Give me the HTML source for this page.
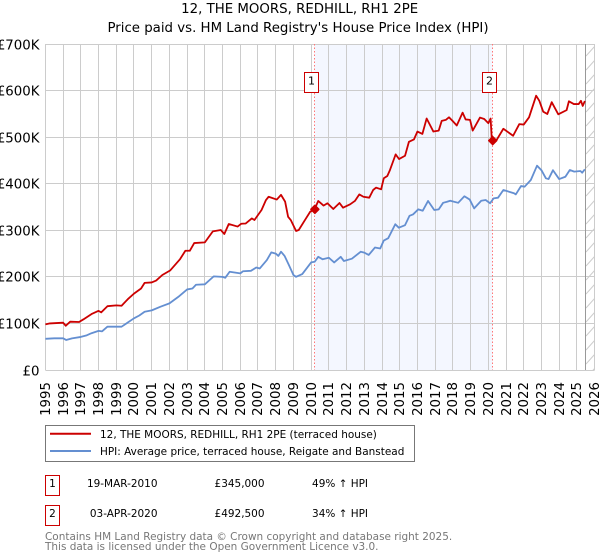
<!DOCTYPE html>
<html>
<head>
<meta charset="utf-8">
<style>
html,body{margin:0;padding:0;background:#fff;width:600px;height:560px;overflow:hidden}
svg{display:block;font-family:"DejaVu Sans","Liberation Sans",sans-serif}
</style>
</head>
<body>
<svg id="chart" width="600" height="560" viewBox="0 0 600 560" xmlns="http://www.w3.org/2000/svg">
<defs>
<pattern id="hatch" width="9" height="14" patternUnits="userSpaceOnUse" x="586" y="44">
<path d="M0 12 L9 2" stroke="#cccccc" stroke-width="1" fill="none"/>
</pattern>
</defs>
<text x="299.7" y="13" text-anchor="middle" font-size="13.33" fill="#000">12, THE MOORS, REDHILL, RH1 2PE</text>
<text x="298" y="32" text-anchor="middle" font-size="13.33" fill="#000">Price paid vs. HM Land Registry's House Price Index (HPI)</text>
<g id="plot"></g>
<g>
<rect x="45.5" y="425.5" width="369" height="36" fill="#fff" stroke="#777" stroke-width="1"/>
<line x1="50" x2="91" y1="433.7" y2="433.7" stroke="#cc0000" stroke-width="2"/>
<text x="100" y="438" font-size="10.47" fill="#000">12, THE MOORS, REDHILL, RH1 2PE (terraced house)</text>
<line x1="50" x2="91" y1="451" y2="451" stroke="#648fd1" stroke-width="2"/>
<text x="100" y="455" font-size="10.47" fill="#000">HPI: Average price, terraced house, Reigate and Banstead</text>
</g>
<g font-size="10.47" fill="#000">
<rect x="45.5" y="475.5" width="14" height="20" fill="#fff" stroke="#cc0000"/>
<text x="52.5" y="487" text-anchor="middle">1</text>
<text x="157.5" y="487" text-anchor="end">19-MAR-2010</text>
<text x="264.5" y="487" text-anchor="end">£345,000</text>
<text x="368" y="487" text-anchor="end">49% ↑ HPI</text>
<rect x="45.5" y="505.5" width="14" height="20" fill="#fff" stroke="#cc0000"/>
<text x="52.5" y="517" text-anchor="middle">2</text>
<text x="157.5" y="517" text-anchor="end">03-APR-2020</text>
<text x="264.5" y="517" text-anchor="end">£492,500</text>
<text x="368" y="517" text-anchor="end">34% ↑ HPI</text>
</g>
<text x="45" y="540" font-size="10.47" fill="#777">Contains HM Land Registry data © Crown copyright and database right 2025.</text>
<text x="45" y="550" font-size="10.47" fill="#777">This data is licensed under the Open Government Licence v3.0.</text>
</svg>
<script>
var yearTicks = [1995,1996,1997,1998,1999,2000,2001,2002,2003,2004,2005,2006,2007,2008,2009,2010,2011,2012,2013,2014,2015,2016,2017,2018,2019,2020,2021,2022,2023,2024,2025,2026];
var priceTicks = [0,100,200,300,400,500,600,700];
var priceTickLabels = ["£0","£100K","£200K","£300K","£400K","£500K","£600K","£700K"];

var hpiDates = [1995,1995.5,1996,1996.17,1996.5,1997,1997.3,1997.6,1998,1998.2,1998.5,1999,1999.3,1999.65,2000,2000.3,2000.6,2001,2001.5,2002,2002.5,2003,2003.3,2003.5,2004,2004.5,2005,2005.15,2005.4,2006,2006.15,2006.6,2006.9,2007.1,2007.5,2007.75,2008,2008.15,2008.3,2008.5,2008.75,2009,2009.15,2009.5,2010,2010.2,2010.4,2010.65,2011,2011.3,2011.67,2011.85,2012.3,2012.8,2013,2013.25,2013.6,2013.9,2014.1,2014.35,2014.75,2014.95,2015.3,2015.55,2015.75,2016.05,2016.3,2016.6,2016.95,2017.2,2017.45,2017.65,2017.85,2018.3,2018.65,2018.95,2019.2,2019.6,2019.85,2020.1,2020.3,2020.55,2020.85,2021.45,2021.55,2021.85,2022.05,2022.4,2022.75,2023,2023.25,2023.4,2023.65,2024,2024.35,2024.6,2024.85,2025.2,2025.3,2025.45];
var hpiValues = [67,68,68,64.5,68,71,74,79,84,83,93,93,93,102,111,117,125,128,136,143,157,173,175,183,184,201,200,198,211,207.5,212,213,220,218,236,252.5,250,245,254,245,225,204,200,206,231,232.5,243,237.7,241,231,243,234,239,254,252,247,263,261,278,283,313,305.6,311,331,334,345,342,363,343.5,345,359,361,363.5,359,373,366,347,363.5,365,358,368.6,370,386.5,379.5,377,395,393.6,408,438.7,429,411.6,410,429,410,415,429.5,426,427.3,423.6,431];

var paidDates = [1995,1995.25,1996,1996.15,1996.4,1996.9,1997.15,1997.6,1998,1998.15,1998.5,1999,1999.3,1999.65,2000,2000.4,2000.6,2001,2001.25,2001.6,2002.05,2002.6,2002.9,2003.15,2003.4,2004,2004.45,2004.9,2005.1,2005.35,2005.85,2006.05,2006.3,2006.65,2006.8,2007.2,2007.45,2007.6,2008.06,2008.3,2008.53,2008.7,2008.85,2009.15,2009.3,2009.65,2009.95,2010.19,2010.4,2010.7,2010.92,2011.25,2011.6,2011.8,2012.2,2012.47,2012.72,2012.95,2013.28,2013.5,2013.66,2013.95,2014.1,2014.3,2014.45,2014.77,2014.96,2015.3,2015.52,2015.8,2016,2016.28,2016.52,2016.9,2017.2,2017.37,2017.6,2017.78,2018,2018.22,2018.55,2018.72,2018.97,2019.12,2019.53,2019.77,2020,2020.13,2020.2,2020.47,2020.85,2021.4,2021.75,2022,2022.3,2022.7,2022.88,2023.1,2023.33,2023.58,2023.95,2024.42,2024.55,2024.83,2025.1,2025.23,2025.33,2025.45];
var paidValues = [98,100,101.6,95,103.7,103,108.8,120,127,123.7,137,138.7,138,152,164,175,187,188,192,204,214,238,256,256,272.6,274,297.6,300.6,292,313.5,308,314,314.5,325.5,322,343.5,365,372,366,376,361.6,329,322,298.5,300.6,322,340,345,363,353,358,345.7,358.6,348.6,355.8,363,377,372,370,386.5,391.5,388,411.6,416.6,429.5,463,453,460,490,495,512,507,540,512,514,535,537,542.6,534,525,552.6,538,537,514,542,539,530,540,492.5,494,518,503,528,527,542.6,589,578,554.6,549.7,575,549,558,577,571,571,578,567,577.6];

var saleDates = [2010.21,2020.25];
var saleValues = [345,492.5];
var saleLabels = ["1","2"];
var dataEnd = [2025.5];

var NS = "http://www.w3.org/2000/svg";
var plot = document.getElementById("plot");
var X0 = 45.4, X1 = 594.6, Y0 = 370, Y700 = 44;
function xScale(year){ return X0 + (year - 1995) * (X1 - X0) / 31; }
function yScale(k){ return Y0 - k * (Y0 - Y700) / 700; }
function snap(v){ return Math.round(v - 0.5) + 0.5; }
function make(tag, parent){
  var e = document.createElementNS(NS, tag);
  (parent || plot).appendChild(e);
  return e;
}
function attr(e, o){ for (var k in o) e.setAttribute(k, o[k]); return e; }

var sx1 = snap(xScale(saleDates[0])), sx2 = snap(xScale(saleDates[1])), endX = snap(xScale(dataEnd[0]));

var band = make("rect");


attr(band, {x:sx1, y:Y700, width:sx2-sx1, height:Y0-Y700, fill:"#f4f7ff"});

var hatch = make("rect");


attr(hatch, {x:endX, y:Y700, width:X1-endX, height:Y0-Y700, fill:"url(#hatch)"});

yearTicks.forEach(function(yr){
  var x = snap(xScale(yr));
  var g = make("line");
  
  
  attr(g, {x1:x, x2:x, y1:Y700, y2:Y0, stroke:"#cccccc", "stroke-width":1});
  var t = make("text");
  
  
  attr(t, {transform:"translate("+(x+4.5)+",382) rotate(-90)", "text-anchor":"end", "font-size":"13.33", fill:"#000"});
  t.textContent = yr;
});
priceTicks.forEach(function(v, i){
  var y = snap(yScale(v));
  var g = make("line");
  
  
  attr(g, {x1:X0, x2:X1, y1:y, y2:y, stroke:"#cccccc", "stroke-width":1});
  var t = make("text");
  
  
  attr(t, {x:39.5, y:y+5, "text-anchor":"end", "font-size":"13.33", fill:"#000"});
  t.textContent = priceTickLabels[i];
});

var endLine = make("line");


attr(endLine, {x1:endX, x2:endX, y1:Y700, y2:Y0, stroke:"#999999", "stroke-width":1});

saleDates.forEach(function(d){
  var x = snap(xScale(d));
  var l = make("line");
  
  
  attr(l, {x1:x, x2:x, y1:Y700, y2:Y0, stroke:"#ff7777", "stroke-width":1, "stroke-dasharray":"1.5 2"});
});

function pathFrom(dates, values){
  return dates.map(function(d, i){
    return (i ? "L" : "M") + xScale(d).toFixed(2) + " " + yScale(values[i]).toFixed(2);
  }).join(" ");
}
var hpiLine = make("path");


attr(hpiLine, {d:pathFrom(hpiDates, hpiValues), fill:"none", stroke:"#648fd1", "stroke-width":1.8, "stroke-linejoin":"round"});

var paidLine = make("path");


attr(paidLine, {d:pathFrom(paidDates, paidValues), fill:"none", stroke:"#cc0000", "stroke-width":1.8, "stroke-linejoin":"round"});

saleDates.forEach(function(d, i){
  var x = xScale(d), y = yScale(saleValues[i]);
  var m = make("path");
  
  
  attr(m, {d:"M"+x+" "+(y-4)+" L"+(x+4)+" "+y+" L"+x+" "+(y+4)+" L"+(x-4)+" "+y+" Z", fill:"#cc0000", stroke:"#cc0000", "stroke-width":1.5, "stroke-linejoin":"round"});
  var bx = snap(x - 10);
  var b = make("rect");
  
  
  attr(b, {x:bx, y:72.5, width:14, height:20, fill:"#fff", stroke:"#cc0000", "stroke-width":1});
  var t = make("text");
  
  
  attr(t, {x:bx+7, y:84.5, "text-anchor":"middle", "font-size":"11", fill:"#000"});
  t.textContent = saleLabels[i];
});
</script>
</body>
</html>
